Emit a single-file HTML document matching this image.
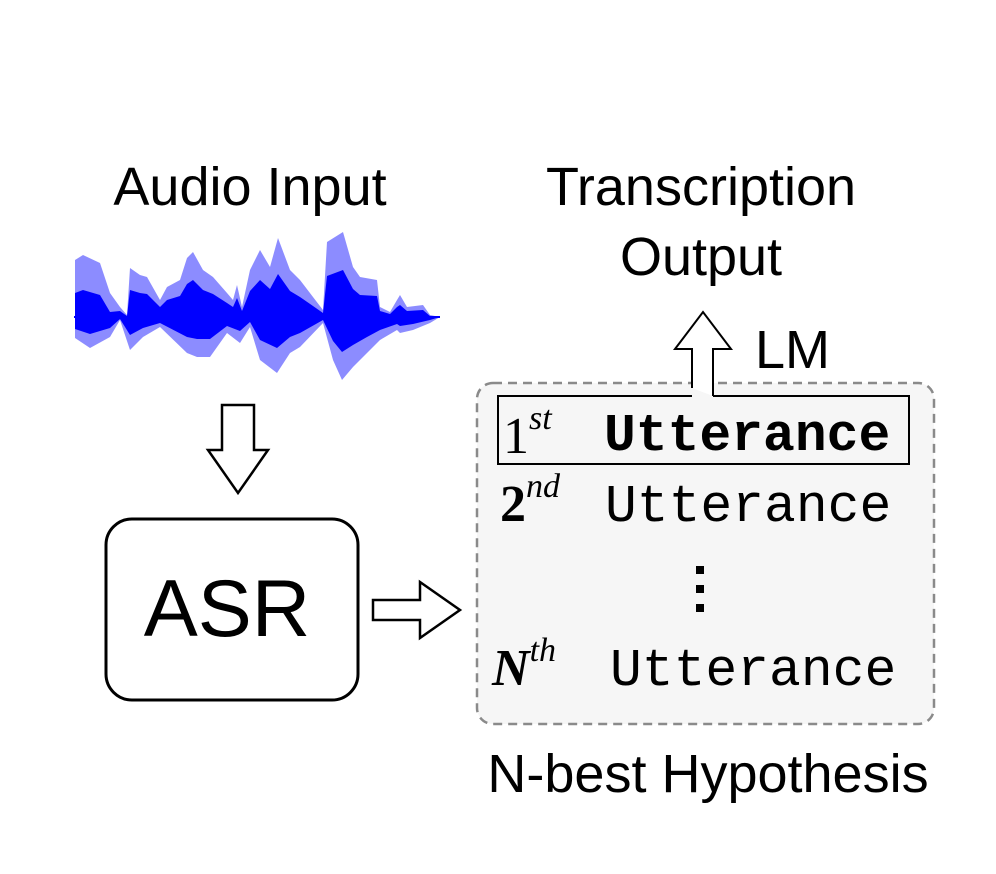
<!DOCTYPE html>
<html><head><meta charset="utf-8"><style>
html,body{margin:0;padding:0;background:#fff;}
svg{display:block}
</style></head><body>
<svg width="996" height="874" viewBox="0 0 996 874" xmlns="http://www.w3.org/2000/svg">
<rect width="996" height="874" fill="#fff"/>
<polygon fill="#0000ff" fill-opacity="0.45" points="75,260 83,255 100,263 110,293 120,307 127,315 130,268 140,275 147,277 160,300 167,287 180,280 187,258 193,252 203,270 213,277 227,293 233,300 237,285 242,307 250,270 260,250 270,267 278,238 290,270 300,280 313,297 323,310 327,242 343,232 353,267 360,277 377,280 380,307 390,312 397,300 400,295 407,307 423,305 430,315 440,317 430,323 413,330 400,333 397,330 380,340 367,353 353,367 342,380 333,360 323,323 300,347 290,353 277,373 260,360 250,327 240,343 227,333 210,357 197,357 187,353 160,327 143,337 130,350 120,320 110,337 90,348 75,338"/>
<polygon fill="#0000ff" points="75,293 83,290 100,295 110,312 120,311 127,316 130,290 140,293 147,294 160,307 167,300 180,296 187,284 193,280 203,290 213,294 227,303 233,307 237,298 242,311 250,291 260,280 270,289 278,274 290,291 300,297 313,306 323,313 327,276 343,270 353,289 360,295 377,296 380,311 390,314 397,307 400,305 407,311 423,310 430,316 440,317 430,320 413,324 400,326 397,324 380,330 367,337 353,345 342,352 333,341 323,320 300,333 290,337 277,348 260,340 250,322 240,331 227,326 210,339 197,339 187,337 160,323 143,328 130,335 120,319 110,328 90,334 75,329"/>
<line x1="74" y1="317" x2="440" y2="317" stroke="#0000ff" stroke-width="2"/>
<!-- down arrow -->
<polygon points="222,405 254,405 254,450 268,450 238,493 208,450 222,450" fill="#fff" stroke="#000" stroke-width="2.5"/>
<!-- right arrow -->
<polygon points="373,600 420,600 420,582 460,610 420,638 420,620 373,620" fill="#fff" stroke="#000" stroke-width="2.5"/>
<!-- ASR box -->
<rect x="106" y="519" width="252" height="181" rx="26" fill="#fff" stroke="#000" stroke-width="3"/>
<!-- dashed box -->
<rect x="477" y="383" width="457" height="341" rx="16" fill="#f6f6f6" stroke="#8a8a8a" stroke-width="2.5" stroke-dasharray="9,6"/>
<rect x="498" y="396" width="411" height="68" fill="none" stroke="#000" stroke-width="2"/>
<!-- up arrow -->
<rect x="692" y="385" width="21" height="14" fill="#f6f6f6"/>
<polyline points="692,388 692,349 675,349 703,312 731,349 713,349 713,396" fill="#fff" stroke="#000" stroke-width="2"/>
<g font-family="Liberation Sans, sans-serif" fill="#000">
<text x="250" y="205" font-size="54" text-anchor="middle">Audio Input</text>
<text x="701" y="205" font-size="54" text-anchor="middle">Transcription</text>
<text x="701" y="275" font-size="54" text-anchor="middle">Output</text>
<text x="755" y="368" font-size="54">LM</text>
<text x="227" y="636" font-size="81" text-anchor="middle">ASR</text>
<text x="708" y="792" font-size="54" text-anchor="middle">N-best Hypothesis</text>
</g>
<g font-family="Liberation Serif, serif">
<text x="503" y="453" font-size="52">1<tspan font-style="italic" font-size="34" dy="-24">st</tspan></text>
<text x="500" y="521" font-size="52" font-weight="bold">2<tspan font-style="italic" font-weight="normal" font-size="34" dy="-24">nd</tspan></text>
<text x="492" y="685" font-size="52" font-style="italic" font-weight="bold">N<tspan font-weight="normal" font-size="34" dy="-24">th</tspan></text>
</g>
<g font-family="Liberation Mono, monospace" font-size="53">
<text x="604" y="450" font-weight="bold">Utterance</text>
<text x="605" y="521">Utterance</text>
<text x="610" y="685">Utterance</text>
</g>
<rect x="696" y="566" width="8" height="8" fill="#000"/>
<rect x="696" y="585" width="8" height="8" fill="#000"/>
<rect x="696" y="604" width="8" height="8" fill="#000"/>
</svg>
</body></html>
